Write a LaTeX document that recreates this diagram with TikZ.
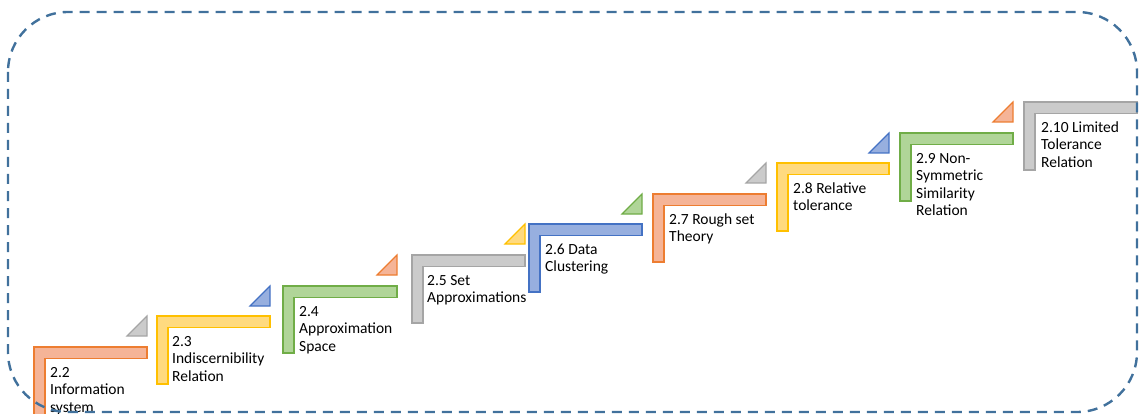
\documentclass[tikz,border=0pt]{standalone}
\usepackage{fontspec}
\setmainfont{Carlito}
\definecolor{orS}{HTML}{ED7D31}\definecolor{orF}{HTML}{F5B497}
\definecolor{yeS}{HTML}{FFC000}\definecolor{yeF}{HTML}{FFDA7F}
\definecolor{grS}{HTML}{70AD47}\definecolor{grF}{HTML}{B0D598}
\definecolor{gyS}{HTML}{A5A5A5}\definecolor{gyF}{HTML}{CBCBCB}
\definecolor{blS}{HTML}{4472C4}\definecolor{blF}{HTML}{97AFDF}
\definecolor{frameC}{HTML}{41719C}
\tikzset{
  lbl/.style={anchor=north west, inner sep=0pt, align=left, text=black,
    font=\fontsize{15.5}{17.5}\selectfont},
  stepL/.style={line width=1.4pt},
  tri/.style={line width=1.2pt},
  frameline/.style={draw=frameC, line width=2.4pt, dash pattern=on 10pt off 7pt, rounded corners=60pt}
}
% #1 left, #2 top, #3 right, #4 bottom, #5 stroke, #6 fill
\newcommand{\stepshape}[6]{%
  \filldraw[stepL, draw=#5, fill=#6] (#1,#2) -- (#3,#2) -- (#3,#2+11.5) -- (#1+11,#2+11.5) -- (#1+11,#4) -- (#1,#4) -- cycle;}
% #1 right, #2 top, #3 stroke, #4 fill
\newcommand{\stepTri}[4]{%
  \filldraw[tri, draw=#3, fill=#4] (#1-20,#2+20) -- (#1,#2+20) -- (#1,#2) -- cycle;}
\begin{document}
\begin{tikzpicture}[x=1pt,y=-1pt]
\useasboundingbox (0,0) rectangle (1142,414);
\clip (0,0) rectangle (1142,414);
% steps
\stepshape{34}{347}{147}{430}{orS}{orF}
\stepshape{157}{316}{270}{384}{yeS}{yeF}
\stepshape{283}{286}{397}{353}{grS}{grF}
\stepshape{412}{255}{525}{323}{gyS}{gyF}
\stepshape{529}{224}{642}{292}{blS}{blF}
\stepshape{653}{194}{766}{262}{orS}{orF}
\stepshape{777}{163}{889}{231}{yeS}{yeF}
\stepshape{900}{133}{1013}{201}{grS}{grF}
\stepshape{1024}{102}{1137}{170}{gyS}{gyF}
% triangles
\stepTri{147}{316}{gyS}{gyF}
\stepTri{270}{286}{blS}{blF}
\stepTri{397}{255}{orS}{orF}
\stepTri{525}{224}{yeS}{yeF}
\stepTri{642}{194}{grS}{grF}
\stepTri{766}{163}{gyS}{gyF}
\stepTri{889}{133}{blS}{blF}
\stepTri{1013}{102}{orS}{orF}
% labels
\node[lbl] (t1) at (50,364.75) {\strut 2.2\\Information\\system};
\node[lbl] (t2) at (172,333.75) {\strut 2.3\\Indiscernibility\\Relation};
\node[lbl] (t3) at (299,303.75) {\strut 2.4\\Approximation\\Space};
\node[lbl] (t4) at (427,272.75) {\strut 2.5 Set\\Approximations};
\node[lbl] (t5) at (545,241.75) {\strut 2.6 Data\\Clustering};
\node[lbl] (t6) at (669,211.75) {\strut 2.7 Rough set\\Theory};
\node[lbl] (t7) at (793,180.75) {\strut 2.8 Relative\\tolerance};
\node[lbl] (t8) at (916,150.75) {\strut 2.9 Non-\\Symmetric\\Similarity\\Relation};
\node[lbl] (t9) at (1041,119.75) {\strut 2.10 Limited\\Tolerance\\Relation};
% frame
\draw[frameline] (8,12) rectangle (1137,412);
\end{tikzpicture}
\end{document}
